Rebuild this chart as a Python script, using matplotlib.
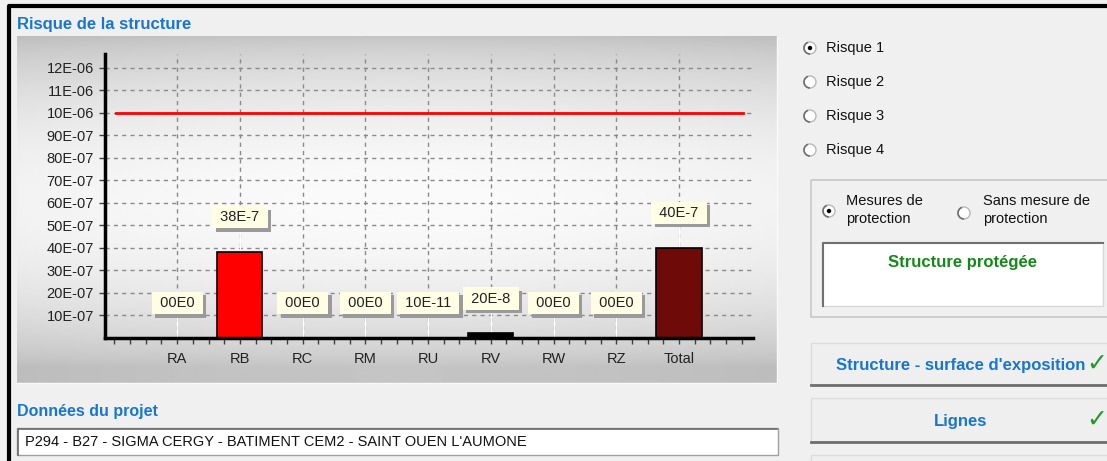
#!/usr/bin/env python3

import numpy as np
import matplotlib
matplotlib.use('Agg')
import matplotlib.pyplot as plt
from matplotlib import patches
from matplotlib import patheffects as pe

plt.rcParams['font.family'] = ['Liberation Sans', 'DejaVu Sans']

# data
categories = ['RA', 'RB', 'RC', 'RM', 'RU', 'RV', 'RW', 'RZ', 'Total']
values = [0.0, 3.8e-6, 0.0, 0.0, 1.0e-11, 2.0e-7, 0.0, 0.0, 4.0e-6]
value_labels = ['00E0', '38E-7', '00E0', '00E0', '10E-11', '20E-8', '00E0', '00E0', '40E-7']
bar_colors = ['red', 'red', 'red', 'red', 'black', 'black', 'red', 'red', '#6e0a08']
limit = 10e-6
y_ticks = [1e-6, 2e-6, 3e-6, 4e-6, 5e-6, 6e-6, 7e-6, 8e-6, 9e-6, 10e-6, 11e-6, 12e-6]
y_tick_labels = ['10E-07', '20E-07', '30E-07', '40E-07', '50E-07', '60E-07',
                 '70E-07', '80E-07', '90E-07', '10E-06', '11E-06', '12E-06']
risques = ['Risque 1', 'Risque 2', 'Risque 3', 'Risque 4']
project = "P294 - B27 - SIGMA CERGY - BATIMENT CEM2 - SAINT OUEN L'AUMONE"

W, H = 1107, 461
fig = plt.figure(figsize=(W / 100, H / 100), dpi=100)
fig.patch.set_facecolor('#f0f0f0')

# full-figure axes in pixel units for the window decoration
ui = fig.add_axes([0, 0, 1, 1])
ui.set_xlim(0, W)
ui.set_ylim(H, 0)
ui.axis('off')
ui.set_zorder(0)

blue = '#1777d0'

# window border
ui.plot([9, 9, W], [H, 6, 6], color='black', lw=3, solid_capstyle='butt')

ui.text(17, 24, 'Risque de la structure', color=blue, fontsize=12,
        fontweight='bold', va='center', ha='left')

# gray gradient panel behind the chart
yy = np.linspace(0, 1, 200)[:, None]
xx = np.linspace(0, 1, 200)[None, :]
shade = 0.77 + 0.21 * np.sin(np.pi * np.clip(yy * 1.05, 0, 1)) ** 0.7 - 0.03 * (1 - np.sin(np.pi * xx))
shade = np.clip(shade, 0, 1)
ui.imshow(shade, cmap='gray', vmin=0, vmax=1, extent=[17, 777, 383, 37],
          aspect='auto', interpolation='bilinear', zorder=1)
ui.plot([17, 777, 777], [383, 383, 37], color='#fafafa', lw=1, zorder=2)
ui.set_xlim(0, W)
ui.set_ylim(H, 0)

# project data
ui.text(17, 411, 'Données du projet', color=blue, fontsize=11.5,
        fontweight='bold', va='center', ha='left')
ui.add_patch(patches.Rectangle((17, 428), 761, 27, fc='white', ec='#a0a0a0', lw=1, zorder=2))
ui.plot([18, 18, 777], [455, 429, 429], color='#6a6a6a', lw=1.2, zorder=3)
ui.text(25, 442, project, fontsize=10.5, va='center', ha='left', color='#111111', zorder=4)

# risk radio buttons
def radio(x, y, on):
    ui.add_patch(patches.Circle((x, y), 6, fc='white', ec='#b8b8b8', lw=1, zorder=3))
    ui.add_patch(patches.Arc((x, y), 12, 12, theta1=90, theta2=250, ec='#707070', lw=1.2, zorder=4))
    if on:
        ui.add_patch(patches.Circle((x, y), 2.2, fc='black', ec='none', zorder=5))

for i, r in enumerate(risques):
    y = 48 + i * 34
    radio(810, y, i == 0)
    ui.text(826, y, r, fontsize=10.5, va='center', ha='left', color='#111111')

# protection group box
ui.add_patch(patches.Rectangle((811, 180), 310, 137, fc='none', ec='#c8c8c8', lw=1.2, zorder=2))
radio(829, 211, True)
ui.text(846, 210, 'Mesures de\nprotection', fontsize=10.5, va='center', ha='left',
        color='#111111', linespacing=1.3)
radio(964, 213, False)
ui.text(983, 210, 'Sans mesure de\nprotection', fontsize=10.5, va='center', ha='left',
        color='#111111', linespacing=1.3)
ui.add_patch(patches.Rectangle((822, 242), 281, 64, fc='white', ec='#d8d8d8', lw=1, zorder=2))
ui.plot([823, 823, 1103], [306, 243, 243], color='#707070', lw=1.5, zorder=3)
ui.text(962, 262, 'Structure protégée', color='#16881a', fontsize=12,
        fontweight='bold', va='center', ha='center', zorder=4)

# buttons
for top, bottom, label in [(343, 385, "Structure - surface d'exposition"),
                           (398, 442, 'Lignes'), (455, 470, '')]:
    ui.add_patch(patches.Rectangle((811, top), 300, bottom - top, fc='#efefef',
                                   ec='#dcdcdc', lw=1, zorder=2))
    ui.plot([811, W], [bottom, bottom], color='#6e6e6e', lw=2, zorder=3)
    if label:
        yc = (top + bottom) / 2 + 1
        ui.text(961, yc, label, color=blue, fontsize=12, fontweight='bold',
                va='center', ha='center', zorder=4)
        ui.text(1097, yc - 1, '\u2713', color='#1e9a2a', fontsize=18,
                va='center', ha='center', family=['DejaVu Sans'], zorder=4)

# chart axes
x0, x1, y0, y1 = 105, 753, 54, 338
ax = fig.add_axes([x0 / W, (H - y1) / H, (x1 - x0) / W, (y1 - y0) / H])
ax.set_zorder(2)
ax.set_facecolor('none')
pos = np.arange(len(categories))
ax.set_xlim(-1.15, 9.18)
ax.set_ylim(0, 12.6e-6)

ax.bar(pos, values, width=0.72, color=bar_colors, edgecolor='black', lw=1.2, zorder=3)
ax.axhline(limit, xmin=0.017, xmax=0.985, color='red', lw=2, zorder=4)

ax.set_yticks(y_ticks)
ax.set_yticklabels(y_tick_labels)
ax.set_xticks(pos)
ax.set_xticklabels(categories)
ax.set_xticks(np.arange(-1.0, 9.2, 0.25), minor=True)
ax.tick_params(axis='both', which='both', length=4, width=1, color='#404040',
               labelsize=10.5, labelcolor='#222222')
ax.tick_params(axis='x', pad=6)
ax.tick_params(axis='y', pad=4)
ax.grid(True, which='major', color='#8a8a8a', ls=(0, (3, 3)), lw=1, zorder=1)

for side in ['top', 'right']:
    ax.spines[side].set_visible(False)
for side in ['left', 'bottom']:
    ax.spines[side].set_linewidth(2.5)
    ax.spines[side].set_color('black')
    ax.spines[side].set_zorder(5)

# value labels with connector lines
label_gap = 1.55e-6
ax.vlines(pos, values, np.array(values) + label_gap - 0.4e-6, color='white', lw=1, zorder=2)
for p, v, lab in zip(pos, values, value_labels):
    t = ax.text(p, v + label_gap, ' ' + lab + ' ', ha='center', va='center', fontsize=10.5,
                color='#222222', zorder=6,
                bbox=dict(boxstyle='square,pad=0.28', fc='#fffde4', ec='none'))
    t.get_bbox_patch().set_path_effects([
        pe.SimplePatchShadow(offset=(2.5, -2.5), shadow_rgbFace='#9a9a9a', alpha=1),
        pe.Normal()])

fig.savefig('out.png', dpi=100, facecolor=fig.get_facecolor())
